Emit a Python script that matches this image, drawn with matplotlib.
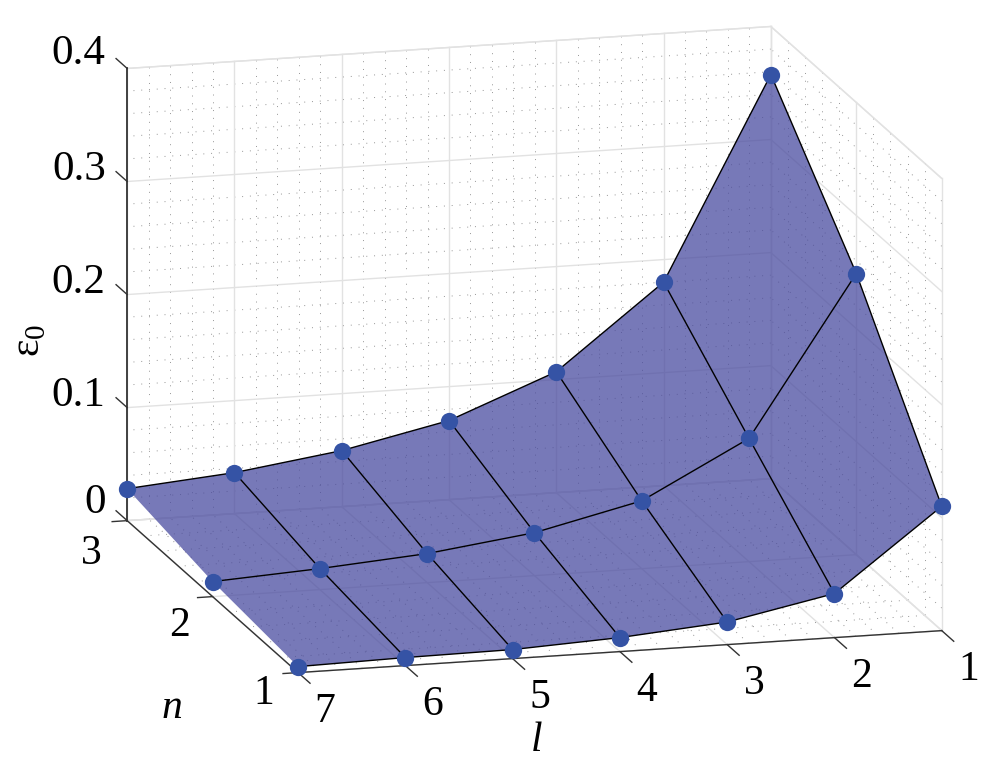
import matplotlib
matplotlib.use("Agg")
import matplotlib.pyplot as plt
import numpy as np
from mpl_toolkits.mplot3d import proj3d

plt.rcParams['font.family'] = ['Liberation Serif', 'DejaVu Serif']
plt.rcParams['mathtext.fontset'] = 'custom'
plt.rcParams['mathtext.rm'] = 'Liberation Serif'

l_vals = [1, 2, 3, 4, 5, 6, 7]
n_vals = [1, 2, 3]
z_ticks = [0, 0.1, 0.2, 0.3, 0.4]
z_labels = ['0', '0.1', '0.2', '0.3', '0.4']

# epsilon_0, one list per n (l = 1..7)
eps_n1 = [0.110, 0.039, 0.020, 0.0124, 0.008, 0.0071, 0.0053]
eps_n2 = [0.2487, 0.109, 0.060, 0.038, 0.0257, 0.0186, 0.0133]
eps_n3 = [0.3575, 0.180, 0.107, 0.070, 0.0496, 0.0363, 0.0283]

L, N = np.meshgrid(l_vals, n_vals)
E = np.array([eps_n1, eps_n2, eps_n3])

fig = plt.figure(figsize=(10.04, 7.7), dpi=100)
S = 1100
ax = fig.add_axes([-30.4 / 1004, -144.4 / 770, S / 1004, S / 770], projection='3d',
                  proj_type='ortho', computed_zorder=False)
ax.patch.set_alpha(0)
ax.set_box_aspect((667, 654, 466), zoom=1013.2 / S)
ax.view_init(elev=13.93, azim=254.85)
ax.set_xlim(7, 1)
ax.set_ylim(1, 3)
ax.set_zlim(0, 0.4)

# no native ticks: their label positions can't be set per axis, drawn below instead
ax.set_xticks([])
ax.set_yticks([])
ax.set_zticks([])

grid_col = '#e2e2e2'
for axis in (ax.xaxis, ax.yaxis, ax.zaxis):
    axis.set_pane_color((1, 1, 1, 1))
    axis.pane.set_edgecolor(grid_col)
    axis.line.set_visible(False)


def wall_lines(ls_l, ls_n, ls_z, **style):
    for v in ls_l:
        ax.plot([v, v], [1, 3], [0, 0], **style)
        ax.plot([v, v], [3, 3], [0, 0.4], **style)
    for v in ls_n:
        ax.plot([1, 7], [v, v], [0, 0], **style)
        ax.plot([1, 1], [v, v], [0, 0.4], **style)
    for v in ls_z:
        ax.plot([1, 7], [3, 3], [v, v], **style)
        ax.plot([1, 1], [1, 3], [v, v], **style)


def between(ticks):
    return [v for a, b in zip(ticks[:-1], ticks[1:]) for v in np.linspace(a, b, 6)[1:-1]]


# dotted minor grid and solid major grid on the three walls
wall_lines(between(l_vals), between(n_vals), between(z_ticks),
           color='#959595', lw=0.7, ls=(0, (1, 7)), zorder=1)
wall_lines(l_vals, n_vals, z_ticks, color=grid_col, lw=1.0, zorder=1)

# axis lines and tick marks
tick = dict(color='#333333', lw=1.0, zorder=1.5)
ax.plot([1, 7], [1, 1], [0, 0], **tick)
ax.plot([7, 7], [1, 3], [0, 0], **tick)
ax.plot([7, 7], [3, 3], [0, 0.4], color='#333333', lw=1.3, zorder=1.5)
for l in l_vals:
    ax.plot([l, l], [1, 0.86], [0, 0], **tick)
for n in n_vals:
    ax.plot([7, 7.14], [n, n], [0, 0], **tick)
for z in z_ticks:
    ax.plot([7, 7], [3, 3.13], [z, z], **tick)

ax.plot_surface(L, N, E, color='#4A4CA0', alpha=0.75, linewidth=0, shade=False,
                rstride=1, cstride=1, zorder=2)

for n, row in zip(n_vals, E):
    ax.plot(l_vals, [n] * 7, row, color='black', lw=1.0, zorder=3)
for j in range(6):
    ax.plot([l_vals[j]] * 3, n_vals, E[:, j], color='black', lw=1.0, zorder=3)

ax.scatter(L.ravel(), N.ravel(), E.ravel(), s=155, color='#3553A5', depthshade=False,
           linewidths=0, alpha=1, zorder=4)

M = ax.get_proj()


def label_at(x, y, z, s, **kw):
    px, py, _ = proj3d.proj_transform(x, y, z, M)
    ax.text2D(px, py, s, transform=ax.transData, va='center', **kw)


# tick labels sit at an offset from their ticks, in data units
for l in l_vals:
    label_at(l, 1 - 0.316, -0.0135, str(l), fontsize=30, ha='center')
for n, dl, dz in zip(n_vals, [0.32, 0.31, 0.335], [0.0164, 0.024, 0.027]):
    label_at(7 + dl, n, -dz, str(n), fontsize=30, ha='center')
for z, lab, dz in zip(z_ticks, z_labels, [0.017, 0.012, 0.012, 0.012, 0.014]):
    label_at(7 + 0.2, 3, z + dz, lab, fontsize=31, ha='right')

fig.text(172 / 1004, 1 - 708 / 770, 'n', fontsize=30, style='italic', ha='center', va='center')
fig.text(537 / 1004, 1 - 741 / 770, 'l', fontsize=30, style='italic', ha='center', va='center')
fig.text(29 / 1004, 1 - 340 / 770, r'$\mathrm{\varepsilon}_{0}$', fontsize=30, rotation=90,
         ha='center', va='center')

fig.savefig('out.png', dpi=100)
